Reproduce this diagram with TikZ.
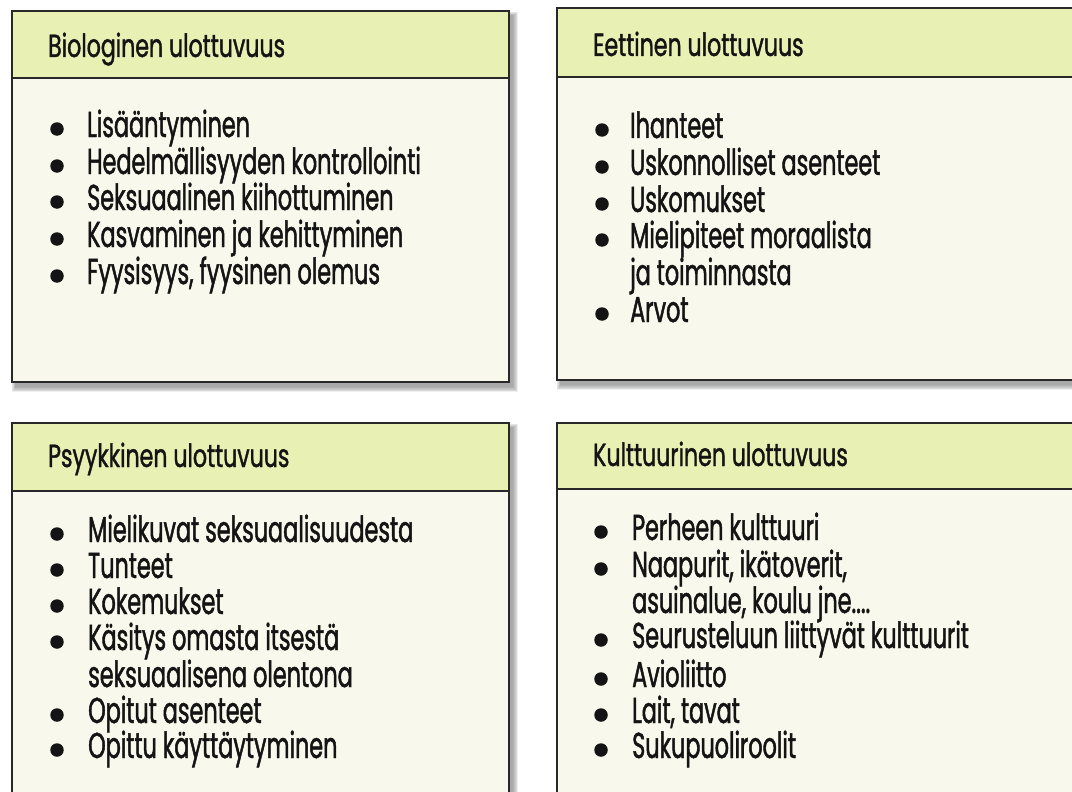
\documentclass[tikz,border=0pt]{standalone}
\usepackage{fontspec}
\setmainfont{Poppins}[FakeStretch=0.62, FakeBold=1.3]
\newfontfamily\headfont{Poppins}[FakeStretch=0.69, FakeBold=1.2]
\definecolor{headfill}{RGB}{233,240,180}
\definecolor{bodyfill}{RGB}{248,249,236}
\definecolor{edge}{RGB}{40,40,40}
\definecolor{ink}{RGB}{20,20,20}
\tikzset{
  panelhead/.style={draw=edge, line width=1.8pt, fill=headfill},
  panelbody/.style={draw=edge, line width=1.8pt, fill=bodyfill},
  headtext/.style={anchor=base west, inner sep=0pt, font=\headfont\fontsize{32}{33}\selectfont, text=ink},
  itemtext/.style={anchor=base west, inner sep=0pt, font=\fontsize{36}{36}\selectfont, text=ink},
  dot/.style={circle, fill=ink, inner sep=0pt, minimum size=13.5pt},
}
\newcommand{\shadowbox}[4]{%
  \foreach \k in {1,...,7}{
    \fill[black, opacity=0.055] ($(#1,#2)+(4-\k*0.6,5-\k*0.6)$) rectangle ($(#3,#4)+(3+\k*0.9,4+\k*0.9)$);
  }%
}
\usetikzlibrary{calc}
\begin{document}
\begin{tikzpicture}[x=1pt,y=-1pt]
\useasboundingbox (0,0) rectangle (1072,792);
\fill[white] (0,0) rectangle (1072,792);
% shadows
\shadowbox{12}{11}{509}{382}
\shadowbox{557}{8}{1080}{380}
\shadowbox{12}{423}{509}{800}
\shadowbox{557}{423}{1080}{800}
% panels
\draw[panelbody] (12,78) rectangle (509,382);
\draw[panelhead] (12,11) rectangle (509,78);
\draw[panelbody] (557,77) rectangle (1080,380);
\draw[panelhead] (557,8) rectangle (1080,77);
\draw[panelbody] (12,491) rectangle (509,810);
\draw[panelhead] (12,423) rectangle (509,491);
\draw[panelbody] (557,489) rectangle (1080,810);
\draw[panelhead] (557,423) rectangle (1080,489);
% headers
\node[headtext] (h1) at (48,57) {Biologinen ulottuvuus};
\node[headtext] (h2) at (593,56) {Eettinen ulottuvuus};
\node[headtext] (h3) at (48,467) {Psyykkinen ulottuvuus};
\node[headtext] (h4) at (593,466) {Kulttuurinen ulottuvuus};
% top-left items
\foreach \y/\t/\b [count=\i] in {137/Lisääntyminen/1, 174/Hedelmällisyyden kontrollointi/1, 210/Seksuaalinen kiihottuminen/1, 247/Kasvaminen ja kehittyminen/1, 284/{Fyysisyys, fyysinen olemus}/1}{
  \node[itemtext] (a\i) at (87,\y) {\t};
  \ifnum\b=1 \node[dot] (ad\i) at (57,\y-8) {};\fi
}
% top-right items
\foreach \y/\t/\b [count=\i] in {138/Ihanteet/1, 175/Uskonnolliset asenteet/1, 212/Uskomukset/1, 248/Mielipiteet moraalista/1, 285/ja toiminnasta/0, 322/Arvot/1}{
  \node[itemtext] (b\i) at (630,\y) {\t};
  \ifnum\b=1 \node[dot] (bd\i) at (602,\y-8) {};\fi
}
% bottom-left items
\foreach \y/\t/\b [count=\i] in {542/Mielikuvat seksuaalisuudesta/1, 578/Tunteet/1, 614/Kokemukset/1, 650/Käsitys omasta itsestä/1, 687/seksuaalisena olentona/0, 723/Opitut asenteet/1, 758/Opittu käyttäytyminen/1}{
  \node[itemtext] (c\i) at (88,\y) {\t};
  \ifnum\b=1 \node[dot] (cd\i) at (57,\y-8) {};\fi
}
% bottom-right items
\foreach \y/\t/\b [count=\i] in {540/Perheen kulttuuri/1, 577/{Naapurit, ikätoverit,}/1, 613/{asuinalue, koulu jne....}/0, 648/Seurusteluun liittyvät kulttuurit/1, 687/Avioliitto/1, 723/{Lait, tavat}/1, 758/Sukupuoliroolit/1}{
  \node[itemtext] (d\i) at (632,\y) {\t};
  \ifnum\b=1 \node[dot] (dd\i) at (601,\y-8) {};\fi
}
\end{tikzpicture}
\end{document}
